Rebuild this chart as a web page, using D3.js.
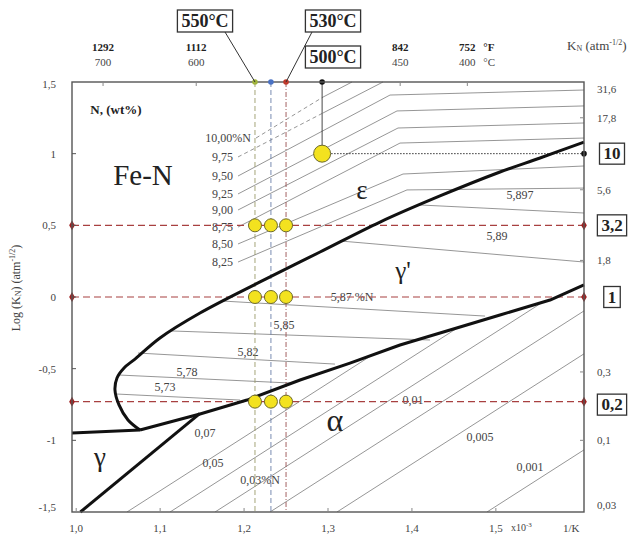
<!DOCTYPE html>
<html>
<head>
<meta charset="utf-8">
<script src="https://cdn.jsdelivr.net/npm/d3@7"></script>
<style>
body { margin: 0; background: #fff; }
text { font-family: "Liberation Serif", "DejaVu Serif", serif; }
</style>
</head>
<body>
<svg id="chart" width="642" height="538"></svg>
<script>
// axes (x: 1/T in 1e-3/K, y: log KN)
var xTicks = [1.0, 1.1, 1.2, 1.3, 1.4, 1.5];
var yTicks = [1.5, 1, 0.5, 0, -0.5, -1, -1.5];
var knTicks = [31.6, 17.8, 5.6, 1.8, 0.3, 0.1, 0.03];
var knLevels = [["10", 1.0], ["3,2", 0.5], ["1", 0], ["0,2", -0.73]];
var topC = [700, 600, 450, 400];
var topF = [1292, 1112, 842, 752];
var topX = [1.032, 1.143, 1.386, 1.466];

// process temperatures (vertical lines) and points
var procTemps = ["550°C", "540°C", "530°C"];
var procX = [1.213, 1.232, 1.250];
var procColors = ["#9fb33a", "#4a72c4", "#c0392b"];
var pointLevels = [0.5, 0, -0.73];
var bigPoint = [1.293, 1.0];

// phase boundaries
var upperBoundary = [[1.0760,-0.928],[1.0617,-0.858],[1.0510,-0.753],[1.0462,-0.649],[1.0486,-0.565],
  [1.0570,-0.495],[1.0701,-0.433],[1.0998,-0.286],[1.1475,-0.112],[1.2190,0.105],[1.2905,0.314],
  [1.3620,0.523],[1.4334,0.705],[1.5049,0.872],[1.5526,0.970],[1.6050,1.081]];
var lowerBoundary = [[1.0760,-0.928],[1.1475,-0.816],[1.2035,-0.719],[1.2667,-0.579],[1.3262,-0.461],
  [1.3858,-0.335],[1.4454,-0.230],[1.5049,-0.126],[1.5645,-0.021],[1.6050,0.084]];
var gammaLine = [[0.995,-0.949],[1.0760,-0.928]];
var alphaGammaLine = [[1.005,-1.5],[1.1475,-0.812]];

// iso-N lines in epsilon (label, points, number of dashed segments)
var epsLabels = ["10,00%N", "9,75", "9,50", "9,25", "9,00", "8,75", "8,50", "8,25"];
var epsDashed = [1, 1, 0, 0, 0, 0, 0, 0];
var epsLines = [
  [[1.2142,1.109],[1.2941,1.395],[1.3286,1.5]],
  [[1.1928,0.977],[1.2941,1.284],[1.3655,1.5]],
  [[1.1928,0.844],[1.3739,1.409],[1.6050,1.444]],
  [[1.1928,0.719],[1.3822,1.298],[1.6050,1.333]],
  [[1.1928,0.607],[1.3834,1.179],[1.6050,1.214]],
  [[1.1928,0.488],[1.3858,1.074],[1.6050,1.109]],
  [[1.1928,0.370],[1.3894,0.858],[1.6050,0.914]],
  [[1.1928,0.244],[1.3941,0.747],[1.6050,0.760]]
];

// iso-N lines in gamma'
var gpLines = [
  [[1.4096,0.642],[1.6050,0.586]],
  [[1.3143,0.391],[1.6050,0.244]],
  [[1.1737,-0.028],[1.4871,-0.133]],
  [[1.1141,-0.237],[1.4215,-0.300]],
  [[1.0736,-0.391],[1.3083,-0.468]],
  [[1.0498,-0.544],[1.2547,-0.600]],
  [[1.0486,-0.677],[1.1952,-0.719]]
];
var gpLabels = ["5,897", "5,89", "5,87 %N", "5,85", "5,82", "5,78", "5,73"];
var gpLabelPos = [[1.5288,0.712],[1.5013,0.426],[1.3286,0.0],[1.2476,-0.195],[1.2047,-0.384],[1.132,-0.523],[1.1058,-0.628]];

// iso-N lines in alpha: start on the bottom edge, common slope
var alphaStarts = [1.0605, 1.1118, 1.1654, 1.2309, 1.3107, 1.4894];
var alphaSlope = 3.75;
var alphaLabels = ["0,07", "0,05", "0,03%N", "0,01", "0,005", "0,001"];
var alphaLabelPos = [[1.1535,-0.949],[1.163,-1.158],[1.219,-1.277],[1.4013,-0.719],[1.4811,-0.977],[1.5407,-1.186]];

// region names
var phaseNames = [["Fe-N", 1.0796, 0.851, 29], ["ε", 1.3405, 0.747, 27], ["γ'", 1.3894, 0.188, 25],
  ["α", 1.3083, -0.858, 32], ["γ", 1.0284, -1.116, 27]];

var svg = d3.select("#chart");
var x = d3.scaleLinear().domain([0.995, 1.605]).range([72, 584]);
var y = d3.scaleLinear().domain([-1.5, 1.5]).range([512, 82]);
var loc = d3.formatLocale({decimal: ",", thousands: ".", grouping: [3], currency: ["", ""], minus: "-"});
var fmt = loc.format("");
var fmt1 = loc.format(".1f");
var line = d3.line().x(function(d) { return x(d[0]); }).y(function(d) { return y(d[1]); });
var grey = "#444";

// clip for alpha field
var alphaPoly = alphaGammaLine.concat(lowerBoundary.filter(function(d) { return d[0] >= 1.1475; }))
  .concat([[1.605, -1.5]]);
svg.append("defs").append("clipPath").attr("id", "alphaClip")
  .append("path").attr("d", line(alphaPoly) + "Z");

// alpha iso lines
svg.append("g").attr("clip-path", "url(#alphaClip)").selectAll("path")
  .data(alphaStarts).enter().append("path")
  .attr("d", function(d) { return line([[d, -1.5], [1.605, -1.5 + alphaSlope * (1.605 - d)]]); })
  .attr("fill", "none").attr("stroke", "#8a8a8a").attr("stroke-width", 0.9);

// epsilon iso lines
epsLines.forEach(function(pts, i) {
  pts.slice(1).forEach(function(p, j) {
    svg.append("path").attr("d", line([pts[j], p]))
      .attr("fill", "none").attr("stroke", "#8a8a8a").attr("stroke-width", 0.9)
      .attr("stroke-dasharray", j < epsDashed[i] ? "4,3" : null);
  });
  svg.append("text").attr("x", x(pts[0][0]) - 5).attr("y", y(pts[0][1]) + 4)
    .attr("text-anchor", "end").attr("font-size", 12).attr("fill", grey).text(epsLabels[i]);
});

// gamma' iso lines
svg.selectAll(".gp").data(gpLines).enter().append("path")
  .attr("d", line).attr("fill", "none").attr("stroke", "#8a8a8a").attr("stroke-width", 0.9);
gpLabels.forEach(function(t, i) {
  svg.append("text").attr("x", x(gpLabelPos[i][0])).attr("y", y(gpLabelPos[i][1]) + 4)
    .attr("text-anchor", "middle").attr("font-size", 12).attr("fill", grey).text(t);
});
alphaLabels.forEach(function(t, i) {
  svg.append("text").attr("x", x(alphaLabelPos[i][0])).attr("y", y(alphaLabelPos[i][1]) + 4)
    .attr("text-anchor", "middle").attr("font-size", 12).attr("fill", grey).text(t);
});

// vertical process lines
procX.forEach(function(v, i) {
  svg.append("line").attr("x1", x(v)).attr("x2", x(v)).attr("y1", y(1.5)).attr("y2", y(-1.5))
    .attr("stroke", i == 0 ? "#9a9a6a" : (i == 1 ? "#6a7fa8" : "#9a5050"))
    .attr("stroke-width", 0.9).attr("stroke-dasharray", i == 2 ? "5,2,1,2" : "5,3");
});

// KN level lines (red dashed)
pointLevels.forEach(function(v) {
  svg.append("line").attr("x1", x(0.995)).attr("x2", x(1.605)).attr("y1", y(v)).attr("y2", y(v))
    .attr("stroke", "#a84040").attr("stroke-width", 1.1).attr("stroke-dasharray", "7,4");
  [0.995, 1.605].forEach(function(e) {
    svg.append("path").attr("d", d3.symbol(d3.symbolDiamond, 28)())
      .attr("transform", "translate(" + x(e) + "," + y(v) + ")").attr("fill", "#a02020");
  });
});

// 500 C point: vertical and dotted horizontal
svg.append("line").attr("x1", x(bigPoint[0])).attr("x2", x(bigPoint[0])).attr("y1", y(1.5)).attr("y2", y(bigPoint[1]))
  .attr("stroke", "#333").attr("stroke-width", 0.9);
svg.append("line").attr("x1", x(bigPoint[0])).attr("x2", x(1.605)).attr("y1", y(bigPoint[1])).attr("y2", y(bigPoint[1]))
  .attr("stroke", "#333").attr("stroke-width", 1).attr("stroke-dasharray", "1.5,1.5");
[[bigPoint[0], 1.5], [1.605, bigPoint[1]]].forEach(function(p) {
  svg.append("circle").attr("cx", x(p[0])).attr("cy", y(p[1])).attr("r", 2.8).attr("fill", "#111");
});

// phase boundaries
var thick = function(pts, curve) {
  svg.append("path").attr("d", line.curve(curve || d3.curveLinear)(pts))
    .attr("fill", "none").attr("stroke", "#111").attr("stroke-width", 3).attr("stroke-linejoin", "round");
  line.curve(d3.curveLinear);
};
thick(upperBoundary, d3.curveCatmullRom);
thick(lowerBoundary);
thick(gammaLine);
thick(alphaGammaLine);

// frame
svg.append("rect").attr("x", x(0.995)).attr("y", y(1.5)).attr("width", x(1.605) - x(0.995))
  .attr("height", y(-1.5) - y(1.5)).attr("fill", "none").attr("stroke", "#555").attr("stroke-width", 1.4);

// ticks
yTicks.slice(1, -1).forEach(function(v) {
  svg.append("line").attr("x1", x(0.995)).attr("x2", x(0.995) + 4).attr("y1", y(v)).attr("y2", y(v)).attr("stroke", "#555");
});
knTicks.slice(1, -1).forEach(function(k) {
  var v = Math.log10(k);
  svg.append("line").attr("x1", x(1.605)).attr("x2", x(1.605) - 4).attr("y1", y(v)).attr("y2", y(v)).attr("stroke", "#888");
});
xTicks.forEach(function(v) {
  svg.append("line").attr("x1", x(v)).attr("x2", x(v)).attr("y1", y(-1.5)).attr("y2", y(-1.5) - 4).attr("stroke", "#888");
});
topX.forEach(function(v) {
  svg.append("line").attr("x1", x(v)).attr("x2", x(v)).attr("y1", y(1.5)).attr("y2", y(1.5) + 4).attr("stroke", "#888");
});

// process dots at the top
procX.forEach(function(v, i) {
  svg.append("circle").attr("cx", x(v)).attr("cy", y(1.5)).attr("r", 2.8).attr("fill", procColors[i]);
});

// yellow points
procX.forEach(function(v) {
  pointLevels.forEach(function(l) {
    svg.append("circle").attr("cx", x(v)).attr("cy", y(l)).attr("r", 6.5)
      .attr("fill", "#f3e21f").attr("stroke", "#6d6a2a").attr("stroke-width", 1);
  });
});
svg.append("circle").attr("cx", x(bigPoint[0])).attr("cy", y(bigPoint[1])).attr("r", 8.5)
  .attr("fill", "#f3e21f").attr("stroke", "#6d6a2a").attr("stroke-width", 1);

// left axis labels
yTicks.forEach(function(v) {
  svg.append("text").attr("x", 56).attr("y", y(v) + (v == 1.5 ? 6 : (v == -1.5 ? -1 : 4)))
    .attr("text-anchor", "end").attr("font-size", 11).attr("fill", grey).text(fmt(v));
});
// right axis labels
knTicks.forEach(function(k) {
  var v = Math.max(-1.45, Math.min(1.45, Math.log10(k)));
  svg.append("text").attr("x", 597).attr("y", y(v) + 4)
    .attr("font-size", 11).attr("fill", grey).text(fmt(k));
});
// bottom labels
xTicks.forEach(function(v) {
  svg.append("text").attr("x", x(v)).attr("y", 532).attr("text-anchor", "middle")
    .attr("font-size", 11).attr("fill", grey).text(fmt1(v));
});
var xu = svg.append("text").attr("x", x(1.518)).attr("y", 531).attr("font-size", 10).attr("fill", grey);
xu.append("tspan").text("x10");
xu.append("tspan").attr("dy", -4).attr("font-size", 7).text("-3");
svg.append("text").attr("x", x(1.58)).attr("y", 532).attr("font-size", 11).attr("fill", grey).text("1/K");

// top temperature labels
topX.forEach(function(v, i) {
  svg.append("text").attr("x", x(v)).attr("y", 51).attr("text-anchor", "middle")
    .attr("font-size", 11).attr("font-weight", "bold").attr("fill", "#222").text(topF[i]);
  svg.append("text").attr("x", x(v)).attr("y", 66).attr("text-anchor", "middle")
    .attr("font-size", 11).attr("fill", grey).text(topC[i]);
});
svg.append("text").attr("x", x(1.466) + 16).attr("y", 51).attr("font-size", 11).attr("font-weight", "bold").attr("fill", "#222").text("°F");
svg.append("text").attr("x", x(1.466) + 16).attr("y", 66).attr("font-size", 11).attr("fill", grey).text("°C");

// axis titles
var kt = svg.append("text").attr("x", 567).attr("y", 50).attr("font-size", 13).attr("fill", grey);
kt.append("tspan").text("K");
kt.append("tspan").attr("font-size", 8).attr("dy", 1).text("N");
kt.append("tspan").attr("dy", -1).text(" (atm");
kt.append("tspan").attr("font-size", 8).attr("dy", -5).text("-1/2");
kt.append("tspan").attr("dy", 5).text(")");

var lt = svg.append("text").attr("transform", "translate(20,288) rotate(-90)").attr("text-anchor", "middle")
  .attr("font-size", 12).attr("fill", grey);
lt.append("tspan").text("Log (K");
lt.append("tspan").attr("font-size", 8).attr("dy", 1).text("N");
lt.append("tspan").attr("dy", -1).text(") (atm");
lt.append("tspan").attr("font-size", 8).attr("dy", -5).text("-1/2");
lt.append("tspan").attr("dy", 5).text(")");

// region names
phaseNames.forEach(function(p) {
  svg.append("text").attr("x", x(p[1])).attr("y", y(p[2])).attr("text-anchor", "middle")
    .attr("dominant-baseline", "central").attr("font-size", p[3]).attr("fill", "#222").text(p[0]);
});
svg.append("text").attr("x", x(1.0474)).attr("y", y(1.305) + 4).attr("text-anchor", "middle")
  .attr("font-family", "'Open Sans', sans-serif").attr("font-size", 13).attr("font-weight", "600")
  .attr("fill", "#222").text("N, (wt%)");

// boxed labels
var boxLabel = function(t, cx, cy, fs) {
  var g = svg.append("g");
  var tx = g.append("text").attr("x", cx).attr("y", cy).attr("text-anchor", "middle")
    .attr("dominant-baseline", "central").attr("font-size", fs).attr("font-weight", "bold").attr("fill", "#222").text(t);
  var b = tx.node().getBBox();
  g.insert("rect", "text").attr("x", b.x - 4).attr("y", b.y - 1).attr("width", b.width + 8).attr("height", b.height + 2)
    .attr("fill", "#fff").attr("stroke", "#333").attr("stroke-width", 1.3);
  return b;
};
var b550 = boxLabel(procTemps[0], 205, 21, 18);
var b530 = boxLabel(procTemps[2], 333, 21, 18);
boxLabel("500°C", 333, 57, 18);
svg.append("line").attr("x1", 225).attr("y1", b550.y + b550.height + 1).attr("x2", x(procX[0])).attr("y2", y(1.5))
  .attr("stroke", "#333").attr("stroke-width", 1);
svg.append("line").attr("x1", 312).attr("y1", b530.y + b530.height + 1).attr("x2", x(procX[2])).attr("y2", y(1.5))
  .attr("stroke", "#333").attr("stroke-width", 1);
knLevels.forEach(function(k) {
  boxLabel(k[0], 612, y(k[1]) + (k[0] == "0,2" ? 3 : 0), 17);
});
</script>
</body>
</html>
